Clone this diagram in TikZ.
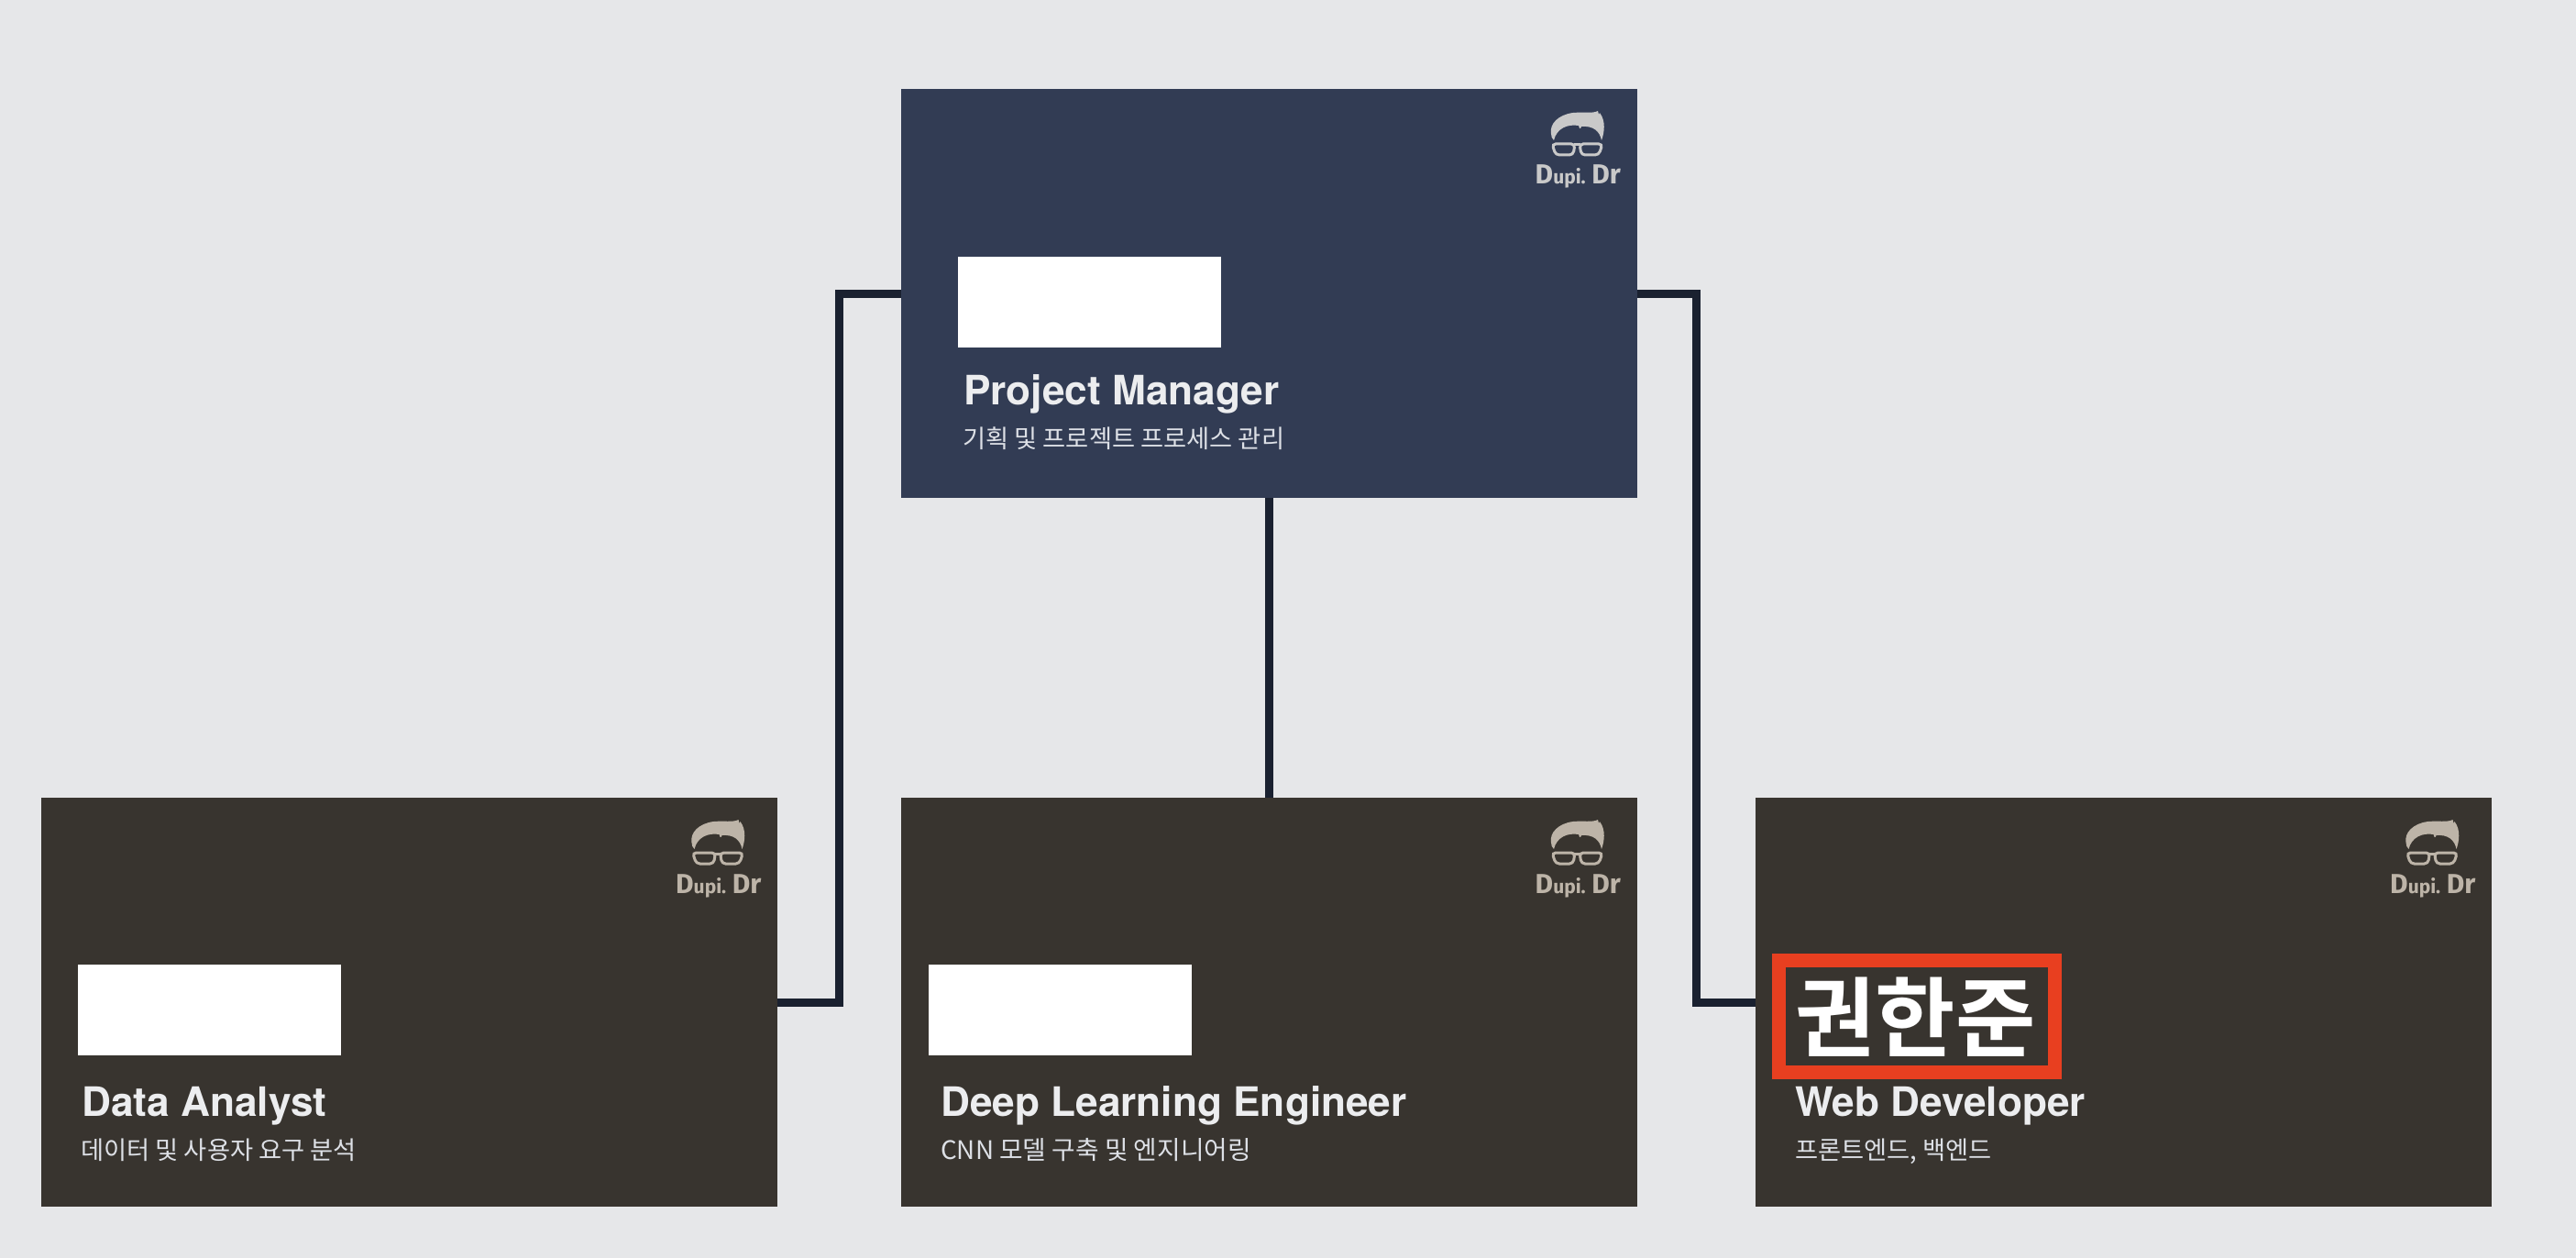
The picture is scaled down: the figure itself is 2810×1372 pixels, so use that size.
\documentclass[tikz,border=0pt]{standalone}
\usepackage{fontspec}
\setmainfont{TeX Gyre Heros}
\newfontfamily\krfont{Noto Sans CJK KR}
\newfontfamily\krbold{Noto Sans CJK KR Bold}
\newfontfamily\logofont{Fira Sans}[BoldFont={Fira Sans Bold}]
\definecolor{pagebg}{HTML}{E6E7E9}
\definecolor{pmfill}{HTML}{323C54}
\definecolor{teamfill}{HTML}{38342F}
\definecolor{wire}{HTML}{1A2130}
\definecolor{alert}{HTML}{E83F20}
\definecolor{titlecol}{HTML}{ECEDEF}
\definecolor{subcol}{HTML}{DDE0E6}
\definecolor{logopm}{HTML}{C9C9C9}
\definecolor{logoteam}{HTML}{BDB4A8}
\newcommand{\dupimark}{\logofont\bfseries\fontsize{30}{30}\selectfont D\fontsize{21}{30}\selectfont upi. \fontsize{30}{30}\selectfont Dr}
\tikzset{
  card/.style={rectangle,draw=none,outer sep=0pt,inner sep=0pt,minimum width=803pt,minimum height=446pt,anchor=north west},
  pmcard/.style={card,fill=pmfill},
  teamcard/.style={card,fill=teamfill},
  redact/.style={rectangle,fill=white,draw=none,outer sep=0pt,inner sep=0pt,minimum width=287pt,minimum height=99pt,anchor=north west},
  wireline/.style={draw=wire,line width=9pt,line join=miter},
  roletitle/.style={anchor=base west,inner sep=0pt,text=titlecol,font=\fontsize{44.2}{50}\selectfont\bfseries},
  rolesub/.style={anchor=base west,inner sep=0pt,text=subcol,font=\fontsize{27.3}{32}\krfont},
  logotext/.style={anchor=base west,inner sep=0pt},
  pics/dupi/.style={code={
    \fill[#1] (1692,146) .. controls (1690,135) and (1700,125) .. (1716,123) .. controls (1726,122) and (1738,124) .. (1743,121) -- (1744,125) -- (1745,123) .. controls (1752,132) and (1750,145) .. (1747,153) .. controls (1745,143) and (1738,137) .. (1725,138) .. controls (1724,141) and (1723,141) .. (1722,137) .. controls (1710,135) and (1698,140) .. (1695,153) .. controls (1693,151) and (1692,149) .. (1692,146) -- cycle;
    \draw[#1,line width=3pt,fill=none,rounded corners=4pt] (1693,157) -- (1718,157) -- (1716,169) -- (1697,169) -- cycle;
    \draw[#1,line width=3pt,fill=none,rounded corners=4pt] (1748,157) -- (1723,157) -- (1725,169) -- (1744,169) -- cycle;
    \draw[#1,line width=3pt] (1717,158) -- (1724,158);
  }}
}
\begin{document}
\begin{tikzpicture}[x=1pt,y=-1pt]
\useasboundingbox[fill=pagebg] (0,0) rectangle (2810,1372);
\coordinate (busL) at (915.5,320);
\coordinate (busR) at (1850.5,320);
% cards
\node[pmcard] (pm) at (982.5,97) {};
\node[teamcard] (da) at (45,870) {};
\node[teamcard] (dl) at (982.5,870) {};
\node[teamcard] (wd) at (1915,870) {};
% connectors
\draw[wireline] (pm.west) -- (busL) -- (busL |- da.east) -- (da.east);
\draw[wireline] (pm.south -| 1384.5,0) -- (dl.north -| 1384.5,0);
\draw[wireline] (pm.east) -- (busR) -- (busR |- wd.west) -- (wd.west);
% redactions
\node[redact] (rpm) at (1045,280) {};
\node[redact] (rda) at (85,1052) {};
\node[redact] (rdl) at (1013,1052) {};
% highlighted name
\node[rectangle,draw=alert,line width=15pt,fill=none,outer sep=0pt,inner sep=0pt,minimum width=301pt,minimum height=122pt,anchor=north west] (hl) at (1940.5,1047.5) {};
\node[anchor=base west,inner sep=0pt,text=white,font=\fontsize{95}{100}\krbold] (name) at (1958,1145) {권한준};
% role texts
\node[roletitle] (tpm) at (1051,441) {Project Manager};
\node[rolesub] (spm) at (1050,488) {기획 및 프로젝트 프로세스 관리};
\node[roletitle] (tda) at (89,1217) {Data Analyst};
\node[rolesub] (sda) at (88,1264) {데이터 및 사용자 요구 분석};
\node[roletitle] (tdl) at (1026,1217) {Deep Learning Engineer};
\node[rolesub,font=\fontsize{27.8}{32}\krfont] (sdl) at (1026,1264) {CNN 모델 구축 및 엔지니어링};
\node[roletitle] (twd) at (1958,1217) {Web Developer};
\node[rolesub] (swd) at (1958,1264) {프론트엔드, 백엔드};
% logos
\pic at (0,0) {dupi=logopm};
\pic at (-937.5,773) {dupi=logoteam};
\pic at (0,773) {dupi=logoteam};
\pic at (932.5,773) {dupi=logoteam};
\node[logotext,text=logopm] (lpm) at (1674.5,201) {\dupimark};
\node[logotext,text=logoteam] (lda) at (737,974) {\dupimark};
\node[logotext,text=logoteam] (ldl) at (1674.5,974) {\dupimark};
\node[logotext,text=logoteam] (lwd) at (2607,974) {\dupimark};
\end{tikzpicture}
\end{document}
